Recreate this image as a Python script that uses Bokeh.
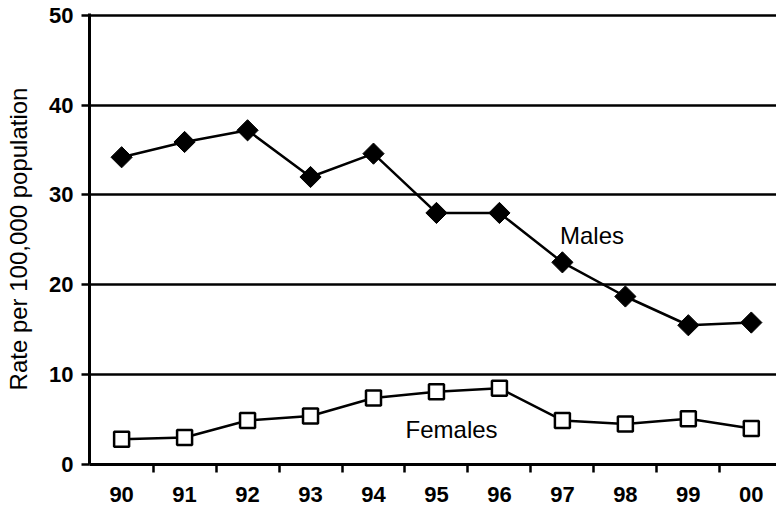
from bokeh.plotting import figure
from bokeh.models import Range1d, FixedTicker, Label, ColumnDataSource
from bokeh.embed import file_html
from bokeh.resources import INLINE
import math

# ---- data ----
years = ["90", "91", "92", "93", "94", "95", "96", "97", "98", "99", "00"]
males = [34.2, 35.9, 37.2, 32.0, 34.6, 28.0, 28.0, 22.5, 18.7, 15.5, 15.8]
females = [2.8, 3.0, 4.9, 5.4, 7.4, 8.1, 8.5, 4.9, 4.5, 5.1, 4.0]
y_ticks = [0, 10, 20, 30, 40, 50]

idx = list(range(len(years)))
src = ColumnDataSource(dict(x=idx, males=males, females=females, year=years))

FONT = "Liberation Sans"

p = figure(width=776, height=514, output_backend="svg", toolbar_location=None,
           x_range=Range1d(-0.51, 10.4), y_range=Range1d(0, 50.2),
           min_border_left=89, min_border_right=0, min_border_top=13,
           min_border_bottom=50)
p.outline_line_color = None
p.background_fill_color = "white"
p.border_fill_color = "white"

# grid
p.xgrid.grid_line_color = None
p.ygrid.ticker = FixedTicker(ticks=y_ticks)
p.ygrid.grid_line_color = "black"
p.ygrid.grid_line_width = 2.5

# y axis
ya = p.yaxis[0]
ya.ticker = FixedTicker(ticks=y_ticks)
ya.axis_line_width = 3
ya.axis_line_color = "black"
ya.major_tick_line_width = 2.5
ya.major_tick_out = 8
ya.major_tick_in = 0
ya.minor_tick_line_color = None
ya.major_label_standoff = 8
ya.major_label_text_font = FONT
ya.major_label_text_font_size = "22px"
ya.major_label_text_font_style = "bold"
ya.major_label_text_color = "black"
ya.axis_label = "Rate per 100,000 population"
ya.axis_label_text_font = FONT
ya.axis_label_text_font_size = "24px"
ya.axis_label_text_font_style = "normal"
ya.axis_label_text_color = "black"
ya.axis_label_standoff = 14

# x axis: labels at centres, ticks between categories
xa = p.xaxis[0]
xa.ticker = FixedTicker(ticks=idx, minor_ticks=[i + 0.5 for i in idx[:-1]])
xa.major_label_overrides = {i: years[i] for i in idx}
xa.axis_line_width = 3
xa.axis_line_color = "black"
xa.major_tick_line_color = None
xa.major_tick_out = 8
xa.minor_tick_line_color = "black"
xa.minor_tick_line_width = 2.5
xa.minor_tick_out = 8
xa.minor_tick_in = 0
xa.major_label_standoff = 14
xa.major_label_text_font = FONT
xa.major_label_text_font_size = "22px"
xa.major_label_text_font_style = "bold"
xa.major_label_text_color = "black"

# series
p.line("x", "males", source=src, line_color="black", line_width=2.5)
p.scatter("x", "males", source=src, marker="square", size=15, angle=math.pi / 4,
          fill_color="black", line_color="black", line_width=1)
p.line("x", "females", source=src, line_color="black", line_width=2.5)
p.scatter("x", "females", source=src, marker="square", size=15,
          fill_color="white", line_color="black", line_width=2.5)

# series labels
p.add_layout(Label(x=7.47, y=25.5, text="Males", text_font=FONT,
                   text_font_size="24px", text_color="black",
                   text_align="center", text_baseline="middle"))
p.add_layout(Label(x=5.24, y=3.9, text="Females", text_font=FONT,
                   text_font_size="24px", text_color="black",
                   text_align="center", text_baseline="middle"))

open("out.html", "w").write(file_html(p, INLINE))
